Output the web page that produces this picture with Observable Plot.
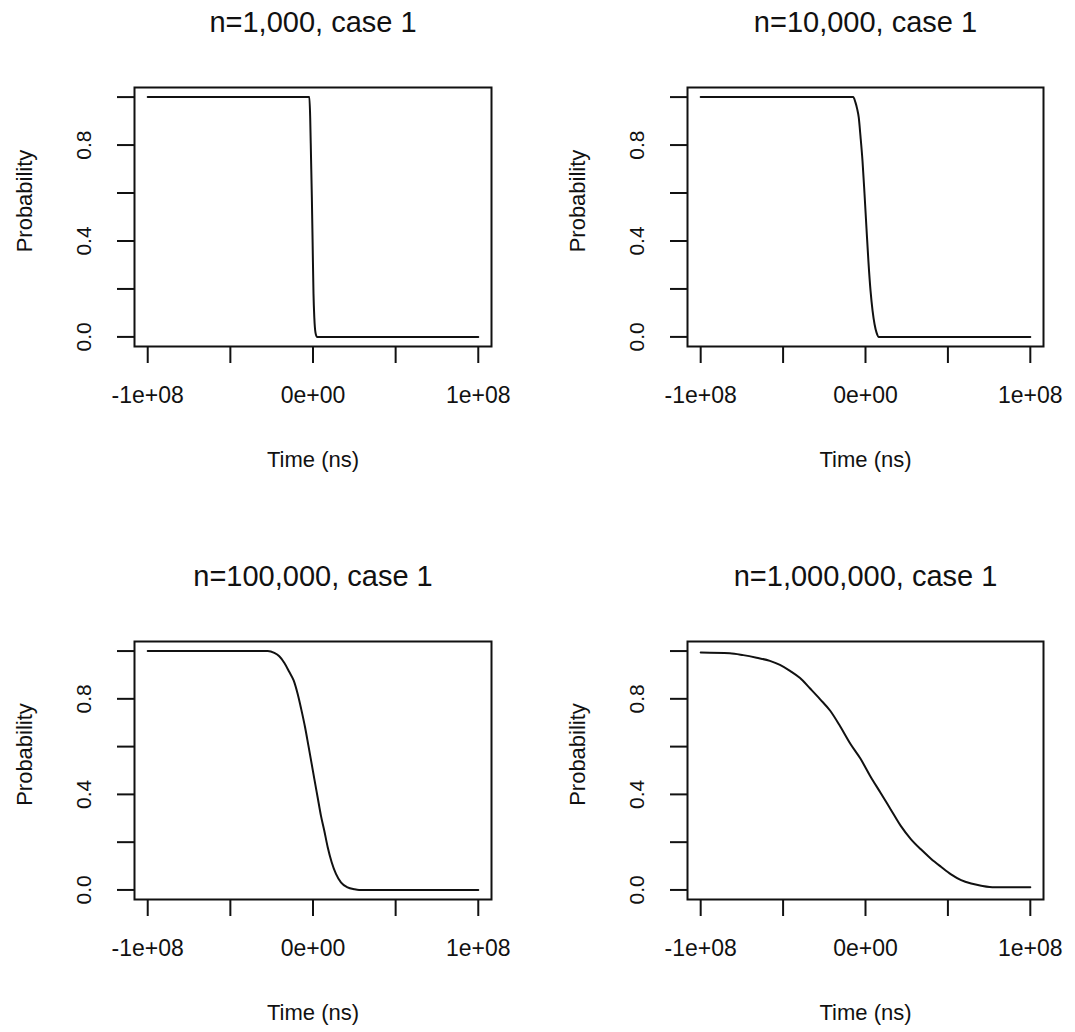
<!DOCTYPE html>
<html><head><meta charset="utf-8">
<script src="https://cdn.jsdelivr.net/npm/d3@7"></script>
<script src="https://cdn.jsdelivr.net/npm/@observablehq/plot@0.6"></script>
<style>
body{margin:0;background:#fff;}
#grid{display:grid;grid-template-columns:537px 538px;width:1075px;}
#grid svg{display:block;}
</style></head><body><div id="grid"></div>
<script>
const titles = ["n=1,000, case 1", "n=10,000, case 1", "n=100,000, case 1", "n=1,000,000, case 1"];
const xLabel = "Time (ns)";
const yLabel = "Probability";
const xTicks = [-1e8, -5e7, 0, 5e7, 1e8];
const xTickLabels = ["-1e+08", "", "0e+00", "", "1e+08"];
const yTicks = [0, 0.2, 0.4, 0.6, 0.8, 1];
const yTickLabels = ["0.0", "", "0.4", "", "0.8", ""];

// time in millions of ns, probability
const time1 = [-100, -2.2, -1.7, -1.2, -0.7, -0.2, 0.3, 0.8, 1.5, 2.4, 100];
const prob1 = [1, 1, 0.915, 0.75, 0.583, 0.38, 0.18, 0.08, 0.018, 0, 0];

const time2 = [-100, -7.5, -6.1, -5.1, -4.1, -3.05, -1.8, -0.6, 0.6, 1.8, 3.05, 4.3, 5.5, 6.7, 8.1, 100];
const prob2 = [1, 1, 0.978, 0.952, 0.915, 0.837, 0.732, 0.597, 0.452, 0.312, 0.193, 0.109, 0.053, 0.018, 0, 0];

const time3 = [-100, -27.4, -23.4, -20.4, -17.3, -14.3, -11.7, -9.3, -7.2, -4.8, -2.8, -0.8, 0.8, 2.8, 4.8, 6.8, 8.9, 11.3, 13.9, 16.9, 20.9, 24.9, 27.9, 100];
const prob3 = [1, 1, 0.992, 0.978, 0.950, 0.912, 0.877, 0.821, 0.759, 0.681, 0.605, 0.528, 0.465, 0.388, 0.311, 0.249, 0.179, 0.116, 0.067, 0.032, 0.011, 0.003, 0, 0];

const time4 = [-100, -82.3, -74.2, -66.1, -58.0, -51.9, -45.8, -39.7, -33.6, -27.5, -21.4, -15.3, -9.2, -3.1, 3.1, 9.2, 15.3, 21.4, 27.5, 33.6, 39.7, 45.8, 51.9, 58.0, 64.1, 70.2, 78.3, 100];
const prob4 = [0.994, 0.991, 0.983, 0.972, 0.959, 0.942, 0.917, 0.887, 0.843, 0.798, 0.750, 0.684, 0.612, 0.550, 0.474, 0.406, 0.337, 0.268, 0.213, 0.170, 0.131, 0.097, 0.065, 0.041, 0.027, 0.018, 0.011, 0.011];

const series = [[time1, prob1], [time2, prob2], [time3, prob3], [time4, prob4]];
const layout = [
  {w: 537, l: 134, r: 46, t: 87, b: 170},
  {w: 538, l: 150, r: 32, t: 87, b: 170},
  {w: 537, l: 134, r: 46, t: 125, b: 133},
  {w: 538, l: 150, r: 32, t: 125, b: 133}
];
const ink = "#111";
const font = "'Liberation Sans', Arial, Helvetica, sans-serif";

function panel(i) {
  const [times, probs] = series[i];
  const m = layout[i];
  const data = times.map((t, j) => ({t: t * 1e6, p: probs[j]}));
  const yLab = yTicks.map((v, j) => ({v, s: yTickLabels[j]})).filter(d => d.s);
  return Plot.plot({
    width: m.w, height: 516,
    marginLeft: m.l, marginRight: m.r, marginTop: m.t, marginBottom: m.b,
    x: {domain: [-1.08e8, 1.08e8]},
    y: {domain: [-0.04, 1.04]},
    style: {fontFamily: font, color: ink, background: "#fff"},
    marks: [
      Plot.frame({stroke: ink, strokeWidth: 2}),
      Plot.axisX(xTicks, {tickSize: 17, tickPadding: 23, strokeWidth: 2, fontSize: 23,
        tickFormat: d => xTickLabels[xTicks.indexOf(d)], label: null}),
      Plot.axisY(yTicks, {tickSize: 17, strokeWidth: 2, tickFormat: () => "", label: null}),
      Plot.text(yLab, {y: "v", text: "s", frameAnchor: "left", dx: -50, rotate: -90,
        fontSize: 21, textAnchor: "middle", lineAnchor: "middle", fill: ink}),
      Plot.text([yLabel], {frameAnchor: "left", dx: -110, dy: -16, rotate: -90, fontSize: 22,
        textAnchor: "middle", lineAnchor: "middle", fill: ink}),
      Plot.text([xLabel], {frameAnchor: "bottom", dy: 113, fontSize: 22, textAnchor: "middle", lineAnchor: "middle", fill: ink}),
      Plot.text([titles[i]], {frameAnchor: "top", dy: -65, fontSize: 29, textAnchor: "middle", lineAnchor: "middle", fill: ink}),
      Plot.line(data, {x: "t", y: "p", stroke: ink, strokeWidth: 2, curve: "monotone-x"})
    ]
  });
}
const grid = document.getElementById("grid");
for (let i = 0; i < 4; i++) grid.appendChild(panel(i));
</script></body></html>
